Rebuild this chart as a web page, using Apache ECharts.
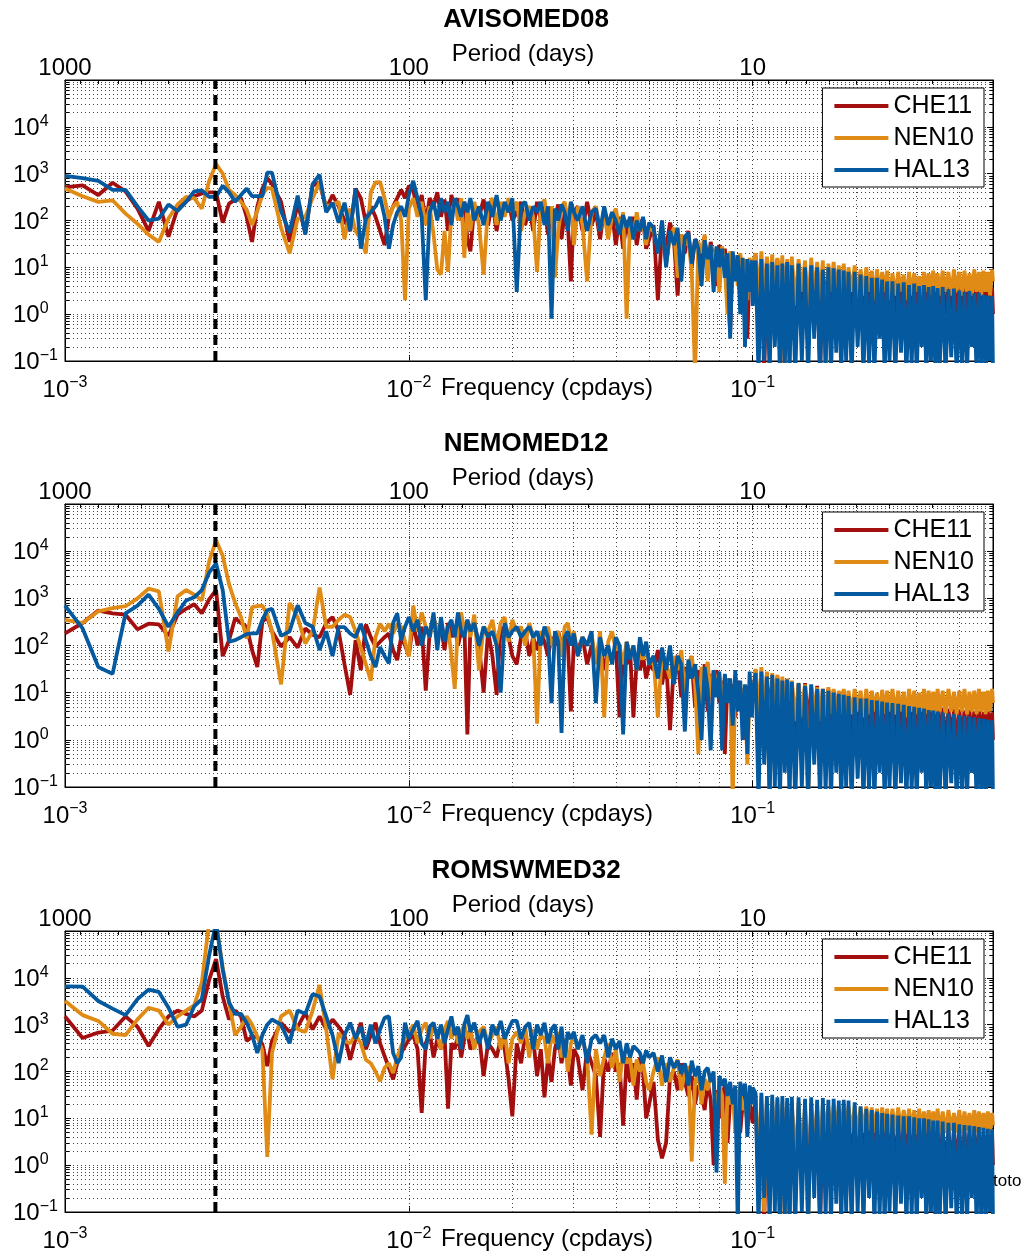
<!DOCTYPE html>
<html>
<head>
<meta charset="utf-8">
<title>Spectra</title>
<script src="https://cdn.jsdelivr.net/npm/echarts@6/dist/echarts.min.js"></script>
<style>
  html, body { margin: 0; padding: 0; background: #fff; }
  #main { width: 1025px; height: 1259px; }
</style>
</head>
<body>
<div id="main"></div>
<script>
const FONT = '"Liberation Sans", Arial, Helvetica, sans-serif';

// frequency grid (cpdays), shared by all curves
const freq = [
  0.001, 0.001125, 0.00125, 0.001375, 0.0015, 0.001625, 0.00175, 0.001875, 0.002, 0.002125, 0.00225, 0.002375, 0.0025,
  0.002625, 0.00275, 0.002875, 0.003, 0.003125, 0.00325, 0.003375, 0.0035, 0.003625, 0.00375, 0.003875, 0.004,
  0.00425, 0.0045, 0.00475, 0.005, 0.00525, 0.0055, 0.00575, 0.006, 0.00625, 0.0065, 0.00675, 0.007,
  0.00725, 0.0075, 0.00775, 0.008, 0.00825, 0.0085, 0.00875, 0.009, 0.00925, 0.0095, 0.00975, 0.01,
  0.0103, 0.0106, 0.0109, 0.0112, 0.0115, 0.0118, 0.0121, 0.0124, 0.0127, 0.013, 0.0133, 0.0136, 0.0139, 0.0142, 0.0145, 0.0148, 0.0151,
  0.0155, 0.016, 0.0165, 0.017, 0.0175, 0.018, 0.0185, 0.019, 0.0195, 0.02,
  0.0206, 0.0212, 0.0218, 0.0224, 0.023, 0.0236, 0.0242, 0.0248, 0.0254, 0.026, 0.0266, 0.0272, 0.0278, 0.0284, 0.029, 0.0296, 0.0302,
  0.031, 0.032, 0.033, 0.034, 0.035, 0.036, 0.037, 0.038, 0.039, 0.04, 0.041, 0.042, 0.043, 0.044, 0.045, 0.046, 0.047, 0.048, 0.049, 0.05,
  0.0515, 0.053, 0.0545, 0.056, 0.0575, 0.059, 0.0605, 0.062, 0.0635, 0.065, 0.0665, 0.068, 0.0695, 0.071, 0.0725, 0.074, 0.0755,
  0.077, 0.0785, 0.08, 0.0815, 0.083, 0.0845, 0.086, 0.0875, 0.089, 0.0905, 0.092, 0.0935, 0.095, 0.0965, 0.098, 0.0995, 0.1,
  0.102, 0.104, 0.106, 0.108, 0.11, 0.112, 0.114, 0.116, 0.118, 0.12, 0.122, 0.124, 0.126, 0.128, 0.13,
  0.133, 0.136, 0.139, 0.142, 0.145, 0.148, 0.151, 0.154, 0.157, 0.16, 0.163, 0.166, 0.169, 0.172, 0.175, 0.178, 0.181, 0.184, 0.187, 0.19,
  0.194, 0.198, 0.202, 0.206, 0.21, 0.214, 0.218, 0.222, 0.226, 0.23, 0.234, 0.238, 0.242, 0.246, 0.25,
  0.255, 0.26, 0.265, 0.27, 0.275, 0.28, 0.285, 0.29, 0.295, 0.3, 0.305, 0.31, 0.315, 0.32, 0.325, 0.33, 0.335, 0.34, 0.345, 0.35,
  0.357, 0.364, 0.371, 0.378, 0.385, 0.392, 0.399, 0.406, 0.413, 0.42, 0.427, 0.434, 0.441, 0.448, 0.455, 0.462, 0.469, 0.476, 0.483, 0.49, 0.497, 0.5
];

const panelNames = ['AVISOMED08', 'NEMOMED12', 'ROMSWMED32'];
const modelNames = ['CHE11', 'NEN10', 'HAL13'];
const modelColors = ['#a30e0e', '#e08b15', '#04599f'];

// AVISOMED08
const avisoChe = [
  510, 560, 350, 640, 420, 180, 60, 250, 45, 180, 260, 330, 380, 400, 400, 90, 230, 280, 300, 120, 35, 200, 480, 800, 600,
  250, 35, 230, 55, 560, 630, 180, 350, 200, 100, 60, 480, 300, 90, 200, 120, 60, 30, 120, 200, 300, 450, 300, 550,
  450, 150, 350, 90, 300, 200, 400, 120, 280, 60, 350, 180, 300, 100, 250, 40, 22, 200, 120, 280, 80, 250, 60, 220, 150, 260, 100,
  150, 250, 80, 200, 60, 250, 100, 200, 50, 180, 120, 220, 40, 150, 90, 5, 150, 200, 60, 250, 80, 150, 40, 180, 60, 150, 30, 120, 25, 100, 40, 120, 30, 80, 110, 25, 40,
  80, 2, 60, 25, 90, 40, 2.5, 50, 20, 60, 10, 40, 30, 12, 45, 8, 35, 15, 4, 30, 10, 25, 6, 0.4, 20, 8, 18, 3, 15, 6, 0.3, 14, 5, 10,
  18, 0.8, 14, 0.05, 16, 1, 12, 0.3, 15, 0.6, 11, 0.05, 13, 1, 12,
  0.5, 11, 1.2, 10, 0.4, 12, 0.8, 9, 0.05, 10, 1, 9, 0.6, 10, 1.5, 8, 0.3, 9, 1, 8,
  0.7, 7, 1, 8, 0.5, 7, 1.2, 6, 0.8, 7, 0.4, 6, 1, 6.5, 0.8,
  5.5, 1, 6, 0.6, 5, 1.2, 5.5, 0.8, 5, 1, 4.5, 0.5, 5, 1, 4.5, 0.8, 4.5, 1.1, 4, 0.7,
  4.5, 1, 4, 0.8, 4.2, 1, 3.8, 0.6, 4, 1, 3.8, 0.9, 4, 0.7, 3.6, 1, 3.8, 0.8, 3.5, 1, 3.6, 1
];
const avisoNen = [
  480, 330, 250, 270, 140, 85, 50, 35, 110, 220, 320, 300, 180, 700, 1600, 1000, 450, 350, 250, 170, 80, 160, 350, 500, 480,
  70, 20, 110, 120, 300, 650, 200, 220, 250, 40, 180, 60, 40, 20, 400, 650, 660, 300, 110, 200, 250, 100, 2, 180,
  300, 120, 250, 80, 200, 50, 9, 7, 60, 8, 150, 250, 100, 300, 16, 200, 60, 250, 80, 7, 200, 300, 80, 250, 120, 300, 150,
  250, 60, 150, 200, 120, 8, 200, 280, 80, 200, 6, 60, 200, 250, 100, 250, 30, 200, 80, 5, 150, 200, 60, 150, 40, 120, 180, 60, 150, 0.8, 100, 40, 150, 60, 100, 30, 70,
  60, 25, 85, 12, 45, 70, 6, 50, 30, 40, 8, 0.05, 35, 20, 50, 5, 30, 12, 25, 3, 28, 10, 1, 22, 12, 18, 4, 20, 8, 15, 2, 16, 6, 12,
  20, 2, 22, 1.5, 17, 3, 19, 1, 16, 2.5, 18, 0.05, 15, 2, 17,
  1.5, 15, 3, 14, 1, 16, 2.5, 13, 2, 14, 0.05, 12, 3, 13, 2, 11, 2.5, 12, 1.5, 10,
  3, 11, 2, 9, 2.5, 10, 3, 8.5, 2, 9, 2.5, 8, 3, 8.5, 2,
  7.5, 2.5, 8, 3, 7, 2, 8, 2.5, 7.5, 3, 6.5, 2, 8, 3, 7.5, 2.5, 8.5, 3, 7.5, 2.5,
  8.5, 3, 8, 2.5, 9, 3, 8, 2.5, 8.5, 3, 7.5, 2.5, 9, 3, 8, 2.5, 8.5, 3, 8, 2.5, 9, 5
];
const avisoHal = [
  900, 800, 700, 450, 450, 200, 100, 110, 220, 160, 250, 420, 440, 320, 320, 550, 400, 250, 350, 480, 330, 330, 330, 1050, 1050,
  160, 55, 340, 50, 600, 950, 150, 240, 90, 240, 60, 480, 25, 110, 150, 200, 320, 120, 25, 80, 150, 200, 120, 350,
  700, 300, 120, 2, 150, 250, 100, 300, 150, 250, 80, 300, 200, 120, 250, 150, 300, 100, 200, 80, 250, 120, 350, 100, 250, 150, 300,
  3, 200, 250, 100, 200, 150, 250, 80, 200, 0.8, 180, 100, 220, 150, 60, 250, 150, 100, 200, 60, 150, 180, 60, 200, 80, 150, 100, 50, 130, 70, 120, 40, 100, 60, 120, 40, 90,
  70, 20, 100, 10, 60, 30, 70, 5, 45, 55, 12, 40, 25, 4, 38, 15, 30, 3, 28, 10, 25, 6, 20, 0.3, 22, 5, 18, 1, 16, 0.2, 15, 3, 14, 1.5,
  14, 0.05, 15, 0.1, 12, 0.05, 13, 0.2, 11, 0.05, 12, 0.08, 13, 0.05, 11,
  0.05, 12, 0.1, 10, 0.05, 11, 0.3, 10, 0.05, 9, 0.08, 10, 0.05, 9.5, 0.15, 9, 0.05, 8.5, 0.1, 8,
  0.05, 8, 0.2, 7, 0.05, 6.5, 0.08, 6, 0.05, 6, 0.3, 5.5, 0.05, 5, 0.1,
  5, 0.05, 4.5, 0.15, 4.8, 0.05, 4.2, 0.08, 4.5, 0.05, 4, 0.2, 4.2, 0.05, 3.8, 0.1, 4, 0.05, 3.6, 0.08,
  3.8, 0.05, 3.4, 0.12, 3.5, 0.05, 3.2, 0.08, 3, 0.05, 3.1, 0.2, 2.8, 0.05, 2.9, 0.08, 2.6, 0.05, 2.5, 0.1, 2.4, 0.05
];

// NEMOMED12
const nemoChe = [
  180, 300, 550, 480, 450, 220, 290, 280, 160, 450, 600, 750, 480, 950, 1500, 60, 130, 380, 300, 250, 80, 35, 320, 400, 200,
  95, 150, 90, 230, 170, 150, 300, 400, 200, 40, 9, 130, 30, 280, 150, 95, 120, 150, 180, 80, 49, 150, 100, 62,
  300, 100, 250, 11, 200, 400, 150, 250, 80, 300, 150, 250, 100, 200, 300, 1.3, 250, 300, 100, 10, 200, 60, 9, 250, 180, 150, 60,
  40, 150, 200, 60, 150, 80, 200, 120, 60, 150, 100, 200, 100, 150, 120, 4, 120, 80, 150, 40, 100, 60, 120, 30, 80, 50, 100, 3, 60, 40, 80, 3, 50, 30, 60, 20, 40,
  30, 80, 15, 50, 1.6, 40, 60, 8, 35, 20, 45, 5, 30, 12, 40, 4, 25, 10, 30, 6, 18, 0.5, 20, 8, 15, 3, 18, 6, 12, 1, 14, 5, 10, 6,
  28, 1, 24, 0.5, 26, 2, 20, 0.3, 22, 1.5, 18, 0.8, 19, 2, 16,
  1, 15, 0.6, 16, 2, 13, 1, 14, 0.4, 12, 1.5, 12, 0.8, 11, 2, 10, 1, 11, 0.6, 9,
  1.2, 9, 0.8, 8.5, 1.5, 8, 0.7, 8, 1, 7.5, 1.2, 7, 0.8, 7, 1,
  6.5, 0.8, 6.8, 1.2, 6, 0.7, 6.2, 1, 5.8, 0.9, 5.5, 1.1, 5.6, 0.8, 5.2, 1, 5, 0.7, 5, 1,
  4.8, 0.8, 4.6, 1.1, 4.5, 0.7, 4.4, 1, 4.2, 0.8, 4.3, 1, 4, 0.9, 4.1, 1, 3.9, 0.8, 4, 1, 3.8, 1
];
const nemoNen = [
  350, 300, 530, 620, 680, 1000, 1600, 1400, 75, 1100, 1500, 1200, 900, 6000, 17000, 8000, 2000, 800, 400, 140, 650, 680, 700, 450, 200,
  15, 800, 400, 110, 200, 1700, 250, 250, 350, 450, 400, 200, 90, 40, 18, 150, 290, 200, 290, 180, 290, 250, 120, 58,
  700, 200, 500, 250, 150, 400, 200, 300, 150, 250, 60, 12, 300, 500, 200, 350, 150, 450, 30, 250, 200, 350, 100, 300, 400, 120, 350,
  200, 250, 100, 300, 150, 2.2, 200, 150, 250, 100, 150, 200, 60, 250, 300, 120, 200, 60, 150, 100, 180, 40, 200, 3, 120, 200, 80, 100, 40, 120, 60, 100, 30, 80, 50, 100, 40,
  50, 3, 70, 40, 20, 60, 30, 80, 10, 40, 60, 15, 0.5, 35, 20, 45, 8, 30, 15, 25, 5, 22, 10, 18, 0.05, 20, 8, 16, 3, 14, 0.3, 12, 5, 8,
  32, 3, 35, 2, 28, 0.05, 26, 3, 24, 2, 22, 1.5, 20, 3, 18,
  2.5, 16, 3, 15, 0.05, 14, 3.5, 13, 2.5, 12, 3, 13, 3.5, 12, 2, 11, 3.5, 12, 3, 11,
  3.5, 12, 4, 11, 3, 12, 3.5, 11, 4, 10, 3, 11.5, 3.5, 11, 4,
  12, 3.5, 11, 4, 10.5, 3, 12, 4, 11, 3.5, 10, 4, 12, 3.5, 11, 4, 10.5, 3.5, 12, 4,
  11, 3.5, 12, 4, 10.5, 3.5, 11, 4, 12, 3.5, 10.5, 4, 11, 3.5, 12, 4, 10.5, 3.5, 11, 4, 12, 6
];
const nemoHal = [
  700, 230, 35, 25, 480, 700, 1200, 600, 250, 500, 900, 1050, 1500, 3500, 5500, 1500, 120, 130, 150, 175, 180, 180, 350, 560, 600,
  160, 200, 710, 300, 250, 80, 200, 60, 245, 245, 180, 150, 288, 129, 60, 35, 93, 60, 42, 300, 480, 129, 250, 400,
  200, 350, 100, 250, 150, 500, 80, 400, 120, 250, 350, 150, 500, 200, 150, 350, 200, 300, 100, 250, 150, 200, 100, 10, 300, 150, 200,
  250, 150, 200, 250, 150, 200, 100, 250, 150, 6, 200, 120, 1.4, 150, 200, 100, 180, 60, 150, 100, 200, 6, 150, 60, 100, 40, 150, 100, 1.3, 120, 50, 100, 30, 150, 60, 120, 40,
  60, 20, 90, 30, 100, 15, 60, 40, 1.5, 50, 20, 40, 10, 1, 35, 12, 0.6, 30, 8, 28, 0.6, 25, 6, 20, 2, 30, 4, 18, 1, 15, 0.5, 28, 3, 10,
  26, 0.05, 28, 0.3, 22, 0.05, 24, 0.1, 20, 0.05, 18, 0.2, 19, 0.05, 17,
  0.05, 16, 0.1, 14, 0.05, 15, 0.3, 12, 0.05, 12, 0.08, 11, 0.05, 10, 0.2, 9.5, 0.05, 9, 0.1, 8.5,
  0.05, 8, 0.15, 7.5, 0.05, 7.5, 0.08, 7, 0.05, 6.8, 0.2, 6.5, 0.05, 6.2, 0.1,
  6, 0.05, 5.8, 0.12, 5.5, 0.05, 5.2, 0.08, 5, 0.05, 4.8, 0.2, 4.6, 0.05, 4.3, 0.1, 4.2, 0.05, 4, 0.08,
  3.8, 0.05, 3.6, 0.12, 3.5, 0.05, 3.3, 0.08, 3.2, 0.05, 3.1, 0.2, 3, 0.05, 2.9, 0.08, 2.8, 0.05, 2.7, 0.1, 2.6, 0.05
];

// ROMSWMED32
const romsChe = [
  1500, 520, 680, 750, 1500, 900, 350, 800, 1500, 2000, 1700, 1500, 2000, 9000, 25000, 4000, 1290, 2000, 1500, 450, 550, 550, 380, 130, 450,
  1100, 700, 900, 1780, 790, 1500, 800, 1290, 900, 600, 178, 500, 1100, 300, 600, 1100, 400, 214, 120, 68, 150, 250, 350, 480,
  600, 300, 13, 400, 700, 200, 500, 300, 600, 16, 400, 300, 600, 200, 500, 700, 300, 400, 600, 80, 400, 300, 200, 500, 300, 70, 11,
  400, 150, 600, 300, 500, 80, 300, 28, 200, 60, 300, 600, 150, 400, 200, 50, 300, 200, 40, 300, 150, 80, 4, 200, 100, 250, 100, 150, 7, 200, 60, 150, 25, 200, 100, 10, 20,
  60, 3.5, 1.4, 3, 80, 100, 40, 150, 60, 30, 80, 20, 50, 35, 15, 60, 25, 1, 40, 10, 30, 50, 3, 25, 40, 10, 30, 5, 20, 35, 8, 25, 10, 8,
  24, 0.3, 20, 0.05, 22, 1, 18, 0.5, 20, 0.05, 17, 1, 18, 0.1, 16,
  1, 15, 0.5, 16, 0.2, 14, 1, 15, 0.05, 13, 0.8, 14, 0.3, 12, 1, 13, 0.5, 12, 0.2, 11,
  1, 11, 0.5, 10, 1.2, 10, 0.8, 9, 1, 9, 0.6, 8.5, 1, 8, 0.8,
  8, 1, 7.5, 0.8, 7.5, 1.2, 7, 0.9, 7, 1, 6.5, 0.8, 6.5, 1.1, 6, 0.9, 6, 1, 5.8, 0.8,
  5.8, 1, 5.5, 0.9, 5.5, 1.1, 5.2, 0.8, 5.2, 1, 5, 0.9, 5, 1, 4.8, 0.8, 4.8, 1, 4.6, 0.9, 4.5, 1
];
const romsNen = [
  3200, 1600, 1200, 640, 600, 1300, 2300, 2000, 1000, 1500, 2000, 2600, 8000, 150000, 150000, 17000, 3000, 600, 900, 1500, 1000, 560, 280, 1.5, 250,
  1500, 2000, 800, 700, 2000, 7000, 800, 68, 660, 450, 400, 600, 400, 178, 150, 100, 62, 120, 150, 93, 200, 350, 500, 660,
  1000, 400, 800, 1100, 500, 900, 600, 300, 800, 1200, 500, 900, 400, 700, 1000, 500, 800, 300, 700, 900, 400, 600, 900, 300, 700, 150, 500,
  700, 400, 900, 200, 800, 300, 600, 500, 150, 600, 400, 700, 200, 500, 100, 400, 600, 300, 500, 200, 4.5, 300, 80, 200, 400, 120, 300, 60, 250, 150, 200, 50, 180, 100, 150, 60, 40,
  100, 200, 50, 150, 60, 120, 180, 40, 90, 130, 1.2, 60, 100, 20, 70, 40, 90, 60, 10, 50, 30, 0.4, 40, 20, 35, 5, 30, 45, 15, 25, 8, 30, 20, 25,
  28, 1, 30, 0.1, 26, 2, 24, 0.5, 25, 1, 22, 0.05, 23, 1.5, 21,
  0.8, 22, 1, 20, 0.05, 21, 2, 19, 1, 20, 5, 18, 4, 19, 5, 18, 4.5, 19, 5, 18,
  5, 18, 4.5, 17, 5, 18, 5.5, 17, 5, 16, 4.5, 17, 5, 16, 5,
  16, 5, 17, 5.5, 15, 5, 16, 5, 15, 4.5, 16, 5, 14, 5, 15, 5.5, 14, 5, 16, 5,
  14, 5, 15, 5.5, 13, 5, 15, 5, 14, 5.5, 13, 5, 15, 5, 14, 5.5, 13, 5, 14, 5, 13, 7
];
const romsHal = [
  6600, 6500, 3200, 2200, 1600, 3500, 5600, 5000, 2300, 900, 1000, 2450, 3500, 30000, 150000, 15000, 3000, 1700, 1700, 1100, 600, 250, 600, 1000, 1290,
  1000, 400, 2000, 1700, 4500, 4000, 1500, 600, 151, 600, 1100, 500, 900, 350, 1000, 400, 800, 1400, 1500, 250, 150, 200, 1100, 500,
  800, 1200, 400, 300, 900, 1100, 500, 1000, 400, 800, 1500, 600, 900, 300, 1000, 1600, 700, 1100, 400, 800, 300, 1000, 600, 1200, 500, 800, 1200,
  1200, 500, 900, 1100, 300, 1000, 600, 1100, 400, 800, 1000, 300, 900, 200, 700, 500, 700, 300, 600, 150, 500, 600, 400, 600, 200, 500, 300, 450, 150, 400, 200, 350, 300, 250, 150, 280, 200,
  250, 100, 220, 60, 200, 120, 170, 90, 150, 50, 170, 80, 130, 40, 100, 120, 60, 100, 0.7, 80, 50, 70, 30, 60, 20, 50, 0.05, 60, 30, 55, 4, 50, 20, 45,
  34, 0.05, 35, 0.2, 30, 0.05, 32, 0.1, 28, 0.05, 30, 0.08, 27, 0.05, 29,
  0.05, 28, 0.1, 26, 0.05, 28, 0.2, 25, 0.05, 27, 0.08, 25, 0.05, 26, 0.15, 24, 0.05, 25, 0.1, 24,
  0.05, 22, 0.1, 18, 0.05, 16, 0.2, 15, 0.05, 14, 0.08, 13, 0.05, 12.5, 0.1,
  12, 0.05, 11.5, 0.15, 11, 0.05, 11, 0.08, 10.5, 0.05, 10, 0.2, 10, 0.05, 9.5, 0.1, 9, 0.05, 9, 0.08,
  8.5, 0.05, 8, 0.12, 8, 0.05, 7.5, 0.08, 7.2, 0.05, 7, 0.2, 6.8, 0.05, 6.5, 0.08, 6.3, 0.05, 6, 0.1, 5.8, 0.05
];

const panelValues = [
  [avisoChe, avisoNen, avisoHal],
  [nemoChe, nemoNen, nemoHal],
  [romsChe, romsNen, romsHal]
];

const annualFreq = 1 / 365.25;   // dashed line, 1 year
const minorFreq = [0.002, 0.003, 0.004, 0.005, 0.006, 0.007, 0.008, 0.009,
  0.02, 0.03, 0.04, 0.05, 0.06, 0.07, 0.08, 0.09, 0.2, 0.3, 0.4];
const minorPower = [0.2, 0.3, 0.4, 0.5, 0.6, 0.7, 0.8, 0.9,
  2, 3, 4, 5, 6, 7, 8, 9, 20, 30, 40, 50, 60, 70, 80, 90,
  200, 300, 400, 500, 600, 700, 800, 900, 2000, 3000, 4000, 5000, 6000, 7000, 8000, 9000,
  20000, 30000, 40000, 50000, 60000, 70000, 80000, 90000];
const yMin = 0.1, yMax = 100000;
const fMin = 0.001, fMax = 0.5;

// layout
const gridTop = [80, 504, 931];
const gridHeight = [281, 283, 281];
const gridLeft = 65, gridRight = 32;

function isPow10(v) {
  const lg = Math.log10(v);
  return Math.abs(lg - Math.round(lg)) < 1e-6;
}
function powLabel(v) {
  if (!isPow10(v)) return '';
  const e = Math.round(Math.log10(v));
  return '{b|10}{s|' + (e < 0 ? '\u2212' + (-e) : e) + '}';
}
const supRich = {
  b: { fontSize: 24, lineHeight: 27, verticalAlign: 'bottom', color: '#000', fontFamily: FONT },
  s: { fontSize: 16, lineHeight: 16, verticalAlign: 'top', color: '#000', fontFamily: FONT }
};
const blackLine = { show: true, lineStyle: { color: '#000', width: 1 } };
const dotted = { type: [1, 3], color: '#444', width: 1 };

const grids = [], xAxes = [], yAxes = [], series = [], legends = [], graphics = [];

panelNames.forEach((title, i) => {
  grids.push({
    left: gridLeft, right: gridRight, top: gridTop[i], height: gridHeight[i],
    show: true, borderColor: '#000', borderWidth: 1, backgroundColor: '#fff'
  });

  // frequency axis (bottom)
  xAxes.push({
    gridIndex: i, type: 'log', logBase: 10, min: fMin, max: fMax,
    axisLine: blackLine,
    axisTick: { inside: true, length: 6, lineStyle: { color: '#000' } },
    axisLabel: { formatter: powLabel, rich: supRich, margin: 14 },
    splitLine: { show: true, lineStyle: dotted },
    name: 'Frequency (cpdays)', nameLocation: 'middle', nameGap: 15, nameMoveOverlap: false,
    nameTextStyle: { fontSize: 24, color: '#000', fontFamily: FONT, padding: [0, 0, 0, 36] }
  });
  // period axis (top)
  xAxes.push({
    gridIndex: i, type: 'log', logBase: 10, min: 2, max: 1000, inverse: true, position: 'top',
    axisLine: blackLine,
    axisTick: { inside: true, length: 6, lineStyle: { color: '#000' } },
    minorTick: { show: true, splitNumber: 9, length: 4, lineStyle: { color: '#000' } },
    axisLabel: {
      formatter: v => (isPow10(v) ? String(Math.round(v)) : ''),
      fontSize: 24, color: '#000', fontFamily: FONT, margin: 0
    },
    splitLine: { show: false },
    name: 'Period (days)', nameLocation: 'middle', nameGap: 14, nameMoveOverlap: false,
    nameTextStyle: { fontSize: 24, color: '#000', fontFamily: FONT, padding: [0, 12, 0, 0] }
  });

  yAxes.push({
    gridIndex: i, type: 'log', logBase: 10, min: yMin, max: yMax,
    axisLine: blackLine,
    axisTick: { inside: true, length: 6, lineStyle: { color: '#000' } },
    minorTick: { show: true, splitNumber: 9, length: 4, lineStyle: { color: '#000' } },
    axisLabel: { formatter: v => (v > 99999 ? '' : powLabel(v)), rich: supRich, margin: 52, align: 'left' },
    splitLine: { show: true, lineStyle: dotted }
  });
  yAxes.push({
    gridIndex: i, type: 'log', logBase: 10, min: yMin, max: yMax, position: 'right',
    axisLine: blackLine,
    axisTick: { inside: true, length: 6, lineStyle: { color: '#000' } },
    minorTick: { show: true, splitNumber: 9, length: 4, lineStyle: { color: '#000' } },
    axisLabel: { show: false },
    splitLine: { show: false }
  });

  // minor grid lines
  series.push({
    name: 'grid' + i, type: 'line', xAxisIndex: 2 * i, yAxisIndex: 2 * i, data: [], silent: true,
    markLine: {
      silent: true, symbol: 'none', z: 1, animation: false,
      label: { show: false }, emphasis: { disabled: true },
      lineStyle: dotted,
      data: minorFreq.map(f => ({ xAxis: f })).concat(minorPower.map(v => ({ yAxis: v })))
    }
  });

  modelNames.forEach((m, j) => {
    const vals = panelValues[i][j];
    const pts = [];
    freq.forEach((f, k) => { if (vals[k] != null) pts.push([f, vals[k]]); });
    series.push({
      name: m, type: 'line', xAxisIndex: 2 * i, yAxisIndex: 2 * i,
      data: pts,
      symbol: 'none', showSymbol: false, clip: true, silent: true,
      color: modelColors[j],
      lineStyle: { width: 3.8, color: modelColors[j], join: 'bevel' },
      animation: false
    });
  });

  // one-year dashed line over the curves, spanning the full y range
  series.push({
    name: 'annual' + i, type: 'line', xAxisIndex: 2 * i, yAxisIndex: 2 * i,
    data: [[annualFreq, yMin], [annualFreq, yMax]],
    symbol: 'none', showSymbol: false, silent: true, clip: true, z: 4,
    lineStyle: { color: '#000', width: 4, type: [10, 6] },
    animation: false
  });

  legends.push({
    data: modelNames, orient: 'vertical', right: 41, top: gridTop[i] + 8,
    backgroundColor: '#fff', borderColor: '#000', borderWidth: 1, borderRadius: 0,
    padding: [5, 10, 4, 12], itemGap: 6, itemWidth: 54, itemHeight: 4, icon: 'rect',
    selectedMode: false, z: 8,
    textStyle: { fontSize: 25, lineHeight: 26, color: '#000', fontFamily: FONT }
  });

  graphics.push({
    type: 'text', x: 526, y: gridTop[i] - 60, z: 20,
    style: { text: title, font: 'bold 26px ' + FONT, fill: '#000', textAlign: 'center', textVerticalAlign: 'middle' }
  });
});

graphics.push({
  type: 'text', x: 993, y: 1181, z: 20,
  style: { text: 'toto', font: '17px ' + FONT, fill: '#000', textAlign: 'left', textVerticalAlign: 'middle' }
});

const chart = echarts.init(document.getElementById('main'), null, { renderer: 'canvas' });
chart.setOption({
  animation: false,
  backgroundColor: '#fff',
  textStyle: { fontFamily: FONT },
  grid: grids,
  xAxis: xAxes,
  yAxis: yAxes,
  legend: legends,
  series: series,
  graphic: graphics
});
</script>
</body>
</html>
